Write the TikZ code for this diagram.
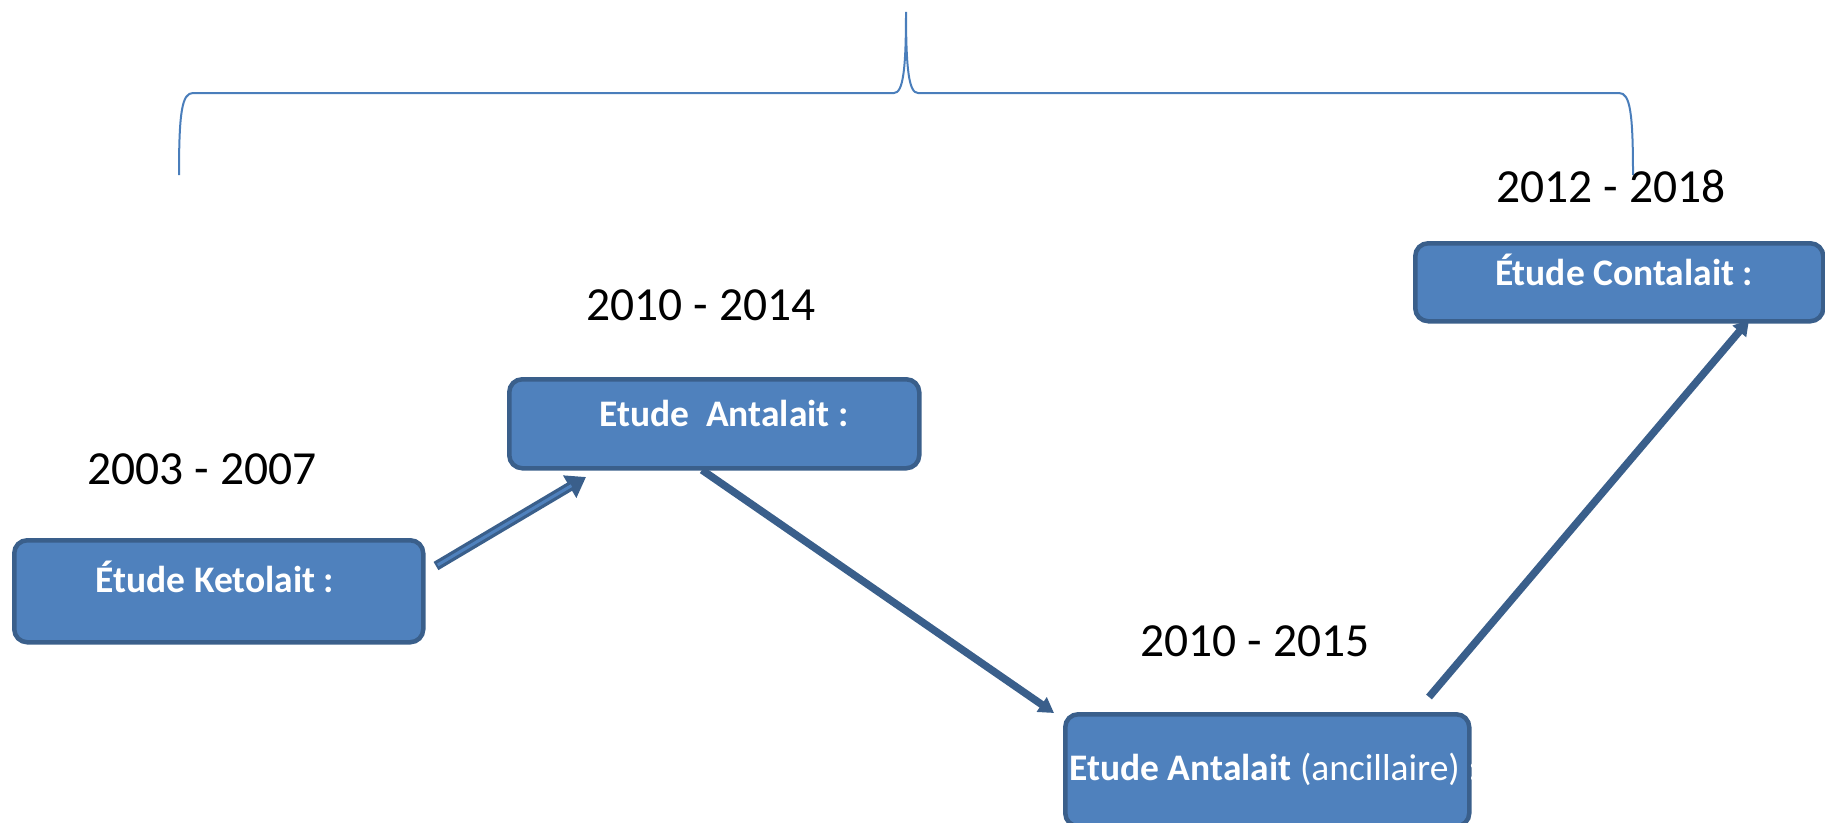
\documentclass[tikz,border=0pt]{standalone}
\usepackage{fontspec}
\setmainfont{Carlito}
\usetikzlibrary{arrows.meta}
\definecolor{boxfill}{HTML}{4F81BD}
\definecolor{boxline}{HTML}{3A5F8B}
\definecolor{bracecol}{HTML}{4A7EBB}
\begin{document}
\begin{tikzpicture}[x=1pt,y=-1pt,
  studybox/.style={draw=boxline, fill=boxfill, line width=4.5pt, rounded corners=13pt,
    inner sep=0pt, anchor=north west},
  boxtext/.style={text=white, font=\fontsize{37.5}{45}\selectfont, inner sep=0pt},
  yeartext/.style={text=black, font=\fontsize{47.5}{57}\selectfont, inner sep=0pt},
  flow/.style={draw=boxline, line width=7.5pt, -{Triangle[length=15pt,width=17pt]}},
]
\useasboundingbox (0,0) rectangle (1825,822);

% curly brace spanning the timeline
\draw[bracecol, line width=2pt]
  (179,175) .. controls (179,112) and (182,93) .. (193,93) -- (894,93)
  .. controls (903,93) and (906,70) .. (906,12)
  .. controls (906,70) and (909,93) .. (918,93) -- (1619,93)
  .. controls (1630,93) and (1633,112) .. (1633,175);

% study boxes
\node[studybox, minimum width=409pt, minimum height=102pt] (ket) at (12,538) {};
\node[studybox, minimum width=410pt, minimum height=89pt] (ant) at (507,377) {};
\node[studybox, minimum width=404pt, minimum height=112pt] (anc) at (1063,712) {};
\node[studybox, minimum width=408pt, minimum height=78pt] (con) at (1413,241) {};

% box titles
\node[boxtext] (ketT) at (215,577) {\bfseries Étude Ketolait :};
\node[boxtext] (antT) at (724,413) {\bfseries Etude\ \ Antalait :};
\node[boxtext] (ancT) at (1274,769) {\textbf{Etude Antalait} (ancillaire) :};
\node[boxtext] (conT) at (1624,270) {\bfseries Étude Contalait :};

% periods
\node[yeartext] (y1) at (202,469) {2003 - 2007};
\node[yeartext] (y2) at (701,305) {2010 - 2014};
\node[yeartext] (y3) at (1255,641) {2010 - 2015};
\node[yeartext] (y4) at (1611,186) {2012 - 2018};

% arrow end points
\coordinate (a1s) at (436,566);
\coordinate (a1e) at (586,477);
\coordinate (a2s) at (702,470);
\coordinate (a2e) at (1054,713);
\coordinate (a3s) at (1429,697);
\coordinate (a3e) at (1749,320);

% arrows
\draw[draw=boxline, line width=9.5pt, -{Triangle[length=19pt,width=25pt]}] (a1s) -- (a1e);
\draw[draw=boxfill, line width=3pt, shorten <=2pt, shorten >=17pt] (a1s) -- (a1e);
\draw[flow] (a2s) -- (a2e);
\draw[flow] (a3s) -- (a3e);
\end{tikzpicture}
\end{document}
